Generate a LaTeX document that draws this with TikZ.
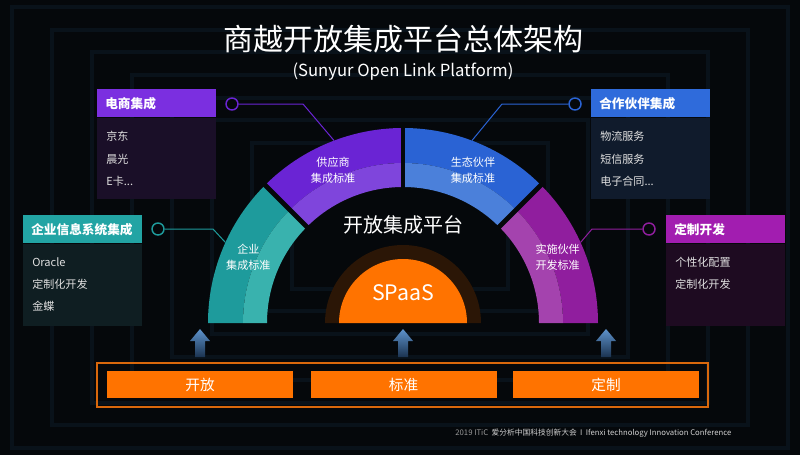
\documentclass[tikz,border=0pt]{standalone}
\usepackage{fontspec}
\setmainfont{Noto Sans CJK SC}
\usetikzlibrary{positioning}

\definecolor{bgc}{HTML}{05080B}
\definecolor{tunc}{HTML}{09121A}
\definecolor{entd}{HTML}{1E9B9C}
\definecolor{entl}{HTML}{39B2AE}
\definecolor{enth}{HTML}{22A4A4}
\definecolor{entb}{HTML}{0F1E22}
\definecolor{supd}{HTML}{6A24D4}
\definecolor{supl}{HTML}{7F45DC}
\definecolor{suph}{HTML}{7B2FE0}
\definecolor{supb}{HTML}{1A0F28}
\definecolor{ecod}{HTML}{2A63D4}
\definecolor{ecol}{HTML}{4B80DA}
\definecolor{ecoh}{HTML}{2F6BDB}
\definecolor{ecob}{HTML}{101B2C}
\definecolor{impd}{HTML}{901E9E}
\definecolor{impl}{HTML}{A443AE}
\definecolor{imph}{HTML}{A21DB0}
\definecolor{impb}{HTML}{1E0B21}
\definecolor{orangec}{HTML}{FF7300}
\definecolor{haloc}{HTML}{2B1606}
\definecolor{barline}{HTML}{D9680C}
\definecolor{arrtop}{HTML}{5E93CC}
\definecolor{arrbot}{HTML}{1B3350}

\tikzset{
  head/.style={fill=#1, text=white, anchor=north west, minimum height=21pt,
    inner xsep=6pt, inner ysep=0pt, text width=77.25pt, align=left,
    font=\fontsize{9.5}{11}\selectfont\bfseries},
  body/.style={fill=#1, minimum width=89.25pt, inner sep=0pt},
  item/.style={text=white!88!black, anchor=west, inner sep=0pt,
    text height=6.5pt, text depth=1.5pt, font=\fontsize{8.3}{10}\selectfont},
  seglab/.style={text=white, align=center, font=\fontsize{8.3}{12}\selectfont},
  ring/.style={circle, draw=#1, line width=1.1pt, fill=bgc, minimum size=9pt, inner sep=0pt},
  link/.style={draw=#1, line width=0.75pt},
  bar/.style={fill=orangec, text=white, minimum width=139.5pt, minimum height=20.25pt,
    inner sep=0pt, font=\fontsize{11}{13}\selectfont},
  tun/.style={draw=tunc, line width=3pt},
  gap/.style={draw=bgc, line width=3.5pt}
}

\begin{document}
\begin{tikzpicture}[x=0.75pt,y=0.75pt]
\useasboundingbox (0,0) rectangle (800,455);
\fill[bgc] (0,0) rectangle (800,455);
% tunnel in the background
\foreach \s in {0.97,0.87,0.77,0.67,0.57,0.47,0.37,0.27}
  \draw[tun] ({400-400*\s},{228-228*\s}) rectangle ({400+400*\s},{228+227*\s});

% title
\node[text=white, font=\fontsize{22.5}{26}\selectfont] (title) at (403,416) {商越开放集成平台总体架构};
\node[text=white, font=\fontsize{12.5}{14}\selectfont] (subtitle) at (403,383) {(Sunyur Open Link Platform)};

% arch
\begin{scope}[shift={(403,132)}]
  \coordinate (C) at (0,0);
  \fill[haloc] (-78,0) arc[start angle=180, end angle=0, radius=78] -- cycle;
  \fill[orangec] (-64,0) arc[start angle=180, end angle=0, radius=64] -- cycle;
  \foreach \a/\dk/\lt in {135/entd/entl, 90/supd/supl, 45/ecod/ecol, 0/impd/impl} {
    \pgfmathsetmacro\b{\a+45}
    \fill[\dk] (\a:195) arc[start angle=\a, end angle=\b, radius=195]
      -- (\b:160) arc[start angle=\b, end angle=\a, radius=160] -- cycle;
    \fill[\lt] (\a:160) arc[start angle=\a, end angle=\b, radius=160]
      -- (\b:136) arc[start angle=\b, end angle=\a, radius=136] -- cycle;
  }
  \foreach \a in {45,90,135}
    \draw[gap] (\a:130) -- (\a:200);
  \coordinate (pEnt) at (155.6:195);
  \coordinate (pSup) at (110.7:195);
  \coordinate (pEco) at (69.3:195);
  \coordinate (pImp) at (24.4:195);
  \node[seglab] (lEnt) at (157:168) {企业\\集成标准};
  \node[seglab] (lSup) at (114.6:168) {供应商\\集成标准};
  \node[seglab] (lEco) at (65.4:168) {生态伙伴\\集成标准};
  \node[seglab] (lImp) at (23:168) {实施伙伴\\开发标准};
  \node[text=white, font=\fontsize{15}{17}\selectfont] (plat) at (0,98) {开放集成平台};
  \node[text=white, font=\fontsize{16}{18}\selectfont] (spaas) at (0,30) {SPaaS};
\end{scope}

% side boxes
\node[head=suph] (hSup) at (97,366) {电商集成};
\node[body=supb, minimum height=60.75pt, below=0pt of hSup] (bSup) {};
\node[item] (jd) at (106,318) {京东};
\node[item, below=17pt of jd.west, anchor=west] (cg) {晨光};
\node[item, below=17pt of cg.west, anchor=west] (ek) {E卡...};

\node[head=enth] (hEnt) at (23,240) {企业信息系统集成};
\node[body=entb, minimum height=61.5pt, below=0pt of hEnt] (bEnt) {};
\node[item] (orc) at (32,192) {Oracle};
\node[item, below=16.5pt of orc.west, anchor=west] (dz1) {定制化开发};
\node[item, below=16.5pt of dz1.west, anchor=west] (jdie) {金蝶};

\node[head=ecoh] (hEco) at (591,366) {合作伙伴集成};
\node[body=ecob, minimum height=60.75pt, below=0pt of hEco] (bEco) {};
\node[item] (wl) at (600,318) {物流服务};
\node[item, below=17pt of wl.west, anchor=west] (dx) {短信服务};
\node[item, below=17pt of dx.west, anchor=west] (ht) {电子合同...};

\node[head=imph] (hImp) at (666,240) {定制开发};
\node[body=impb, minimum height=61.5pt, below=0pt of hImp] (bImp) {};
\node[item] (gx) at (675,192) {个性化配置};
\node[item, below=16.5pt of gx.west, anchor=west] (dz2) {定制化开发};

% rings and links
\node[ring=supd] (cSup) at (232,351) {};
\node[ring=entd] (cEnt) at (158,226) {};
\node[ring=ecod] (cEco) at (575,351) {};
\node[ring=impd] (cImp) at (649,226) {};
\draw[link=supd] (cSup) -- (303,351) -- (pSup);
\draw[link=entd] (cEnt) -- (213,226) -- (pEnt);
\draw[link=ecod] (cEco) -- (502,351) -- (pEco);
\draw[link=impd] (cImp) -- (592,226) -- (pImp);

% arrows up
\foreach \x in {200,403,606}
  \shade[top color=arrtop, bottom color=arrbot] ({\x-5},98) -- ({\x-5},114) -- ({\x-10},114)
    -- (\x,126) -- ({\x+10},114) -- ({\x+5},114) -- ({\x+5},98) -- cycle;

% bottom bar
\draw[barline, line width=1.1pt] (97,48) rectangle (708,92);
\node[bar] (open) at (200,70.5) {开放};
\node[bar] (std) at (403.5,70.5) {标准};
\node[bar] (cust) at (606,70.5) {定制};

% footer
\node[anchor=east, text=white!82!black, font=\fontsize{5.8}{7}\selectfont] (foot) at (736,22)
  {{\color{white!60!black}2019 ITiC}\ \ 爱分析中国科技创新大会 \ I \ Ifenxi technology Innovation Conference};
\end{tikzpicture}
\end{document}
